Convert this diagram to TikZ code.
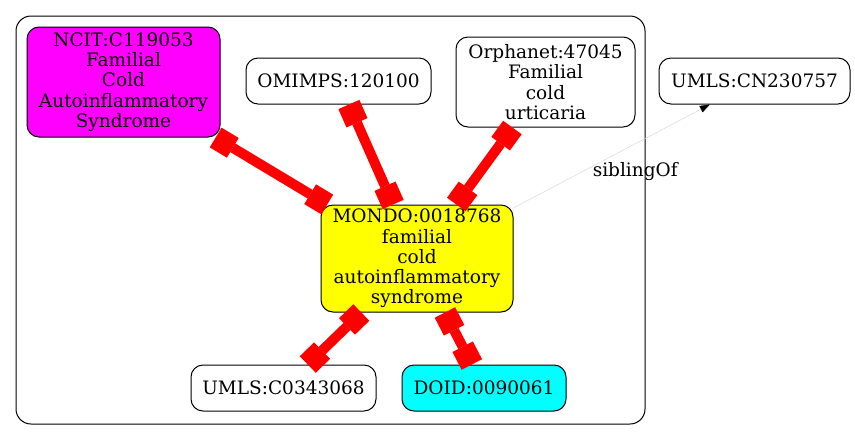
\documentclass[tikz,border=0pt]{standalone}
\usepackage{fontspec}
\setmainfont{DejaVu Serif}
\usetikzlibrary{positioning,arrows.meta}

\definecolor{termmagenta}{RGB}{255,0,255}
\definecolor{termyellow}{RGB}{255,255,0}
\definecolor{termcyan}{RGB}{0,255,255}

\begin{document}
\begin{tikzpicture}[
    x=1pt,y=-1pt,
    every node/.style={draw,line width=1pt,rounded corners=12pt,align=center,inner sep=0pt,
      font=\fontsize{18.5}{20.3}\selectfont},
    link/.style={draw=red,line width=10pt,
      {Square[length=20pt,width=23pt,line width=0pt]}-{Square[length=20pt,width=23pt,line width=0pt]}},
    >={Triangle[length=10pt,width=7pt,color=black]}
]

\useasboundingbox (0,0) rectangle (855,440);
\draw[line width=1pt,rounded corners=15pt] (16,16) rectangle (645,424);

\node (ncit) [fill=termmagenta,minimum width=193pt,minimum height=110pt] at (123.5,82)
  {NCIT:C119053\\Familial\\Cold\\Autoinflammatory\\Syndrome};
\node (omimps) [minimum width=185pt,minimum height=46pt] at (338.5,81) {OMIMPS:120100};
\node (orpha) [minimum width=179pt,minimum height=90pt] at (545.5,82)
  {Orphanet:47045\\Familial\\cold\\urticaria};
\node (cn) [minimum width=191pt,minimum height=46pt] at (754.5,81) {UMLS:CN230757};

\node (mondo) [fill=termyellow,minimum width=192pt,minimum height=107pt] at (417,258.5)
  {MONDO:0018768\\familial\\cold\\autoinflammatory\\syndrome};

\node (umls) [minimum width=185pt,minimum height=46pt] at (283.5,388) {UMLS:C0343068};
\node (doid) [fill=termcyan,minimum width=164pt,minimum height=46pt] at (484,388) {DOID:0090061};

\draw[link] (ncit) -- (mondo);
\draw[link] (omimps) -- (mondo);
\draw[link] (orpha) -- (mondo);
\draw[link] (mondo) -- (umls);
\draw[link] (mondo) -- (doid);

\draw[->,draw=black!15,line width=0.5pt] (mondo) -- node[pos=0.62,below=18pt,draw=none] {siblingOf} (cn);

\end{tikzpicture}
\end{document}
